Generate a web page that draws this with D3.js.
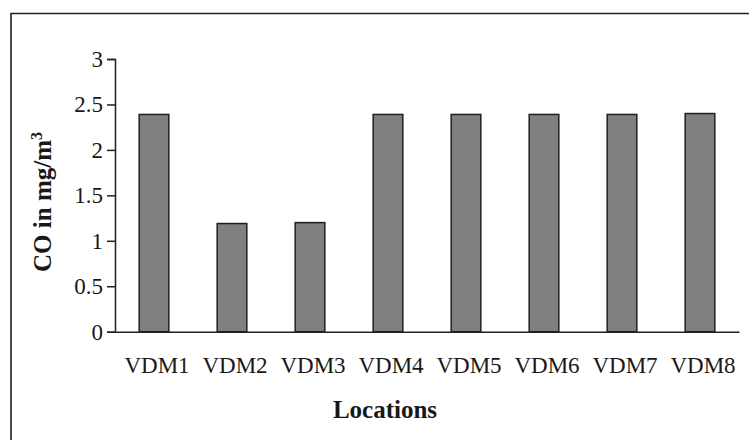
<!DOCTYPE html>
<html>
<head>
<meta charset="utf-8">
<script src="https://cdn.jsdelivr.net/npm/d3@7"></script>
<style>
  body { margin: 0; background: #fff; }
  text { font-family: "Liberation Serif", "Times New Roman", serif; fill: #1a1718; }
</style>
</head>
<body>
<div id="chart"></div>
<script>
// chart values
var locations = ["VDM1", "VDM2", "VDM3", "VDM4", "VDM5", "VDM6", "VDM7", "VDM8"];
var coValues = [2.39, 1.19, 1.2, 2.39, 2.39, 2.39, 2.39, 2.4];
var yTicks = [0, 0.5, 1, 1.5, 2, 2.5, 3];

var width = 749, height = 440;
var margin = { top: 59, right: 10, bottom: 108, left: 115 };

var svg = d3.select("#chart")
  .append("svg")
  .attr("width", width)
  .attr("height", height);

// outer frame (cropped on the right and bottom like the original)
svg.append("path")
  .attr("d", "M11,445 L11,13.5 L760,13.5")
  .attr("fill", "none")
  .attr("stroke", "#231f20")
  .attr("stroke-width", 1.6);

var x = d3.scaleBand()
  .domain(locations)
  .range([margin.left, 739])
  .paddingInner(0.62)
  .paddingOuter(0.31);

var y = d3.scaleLinear()
  .domain([0, 3])
  .range([331.7, margin.top]);

// bars
svg.selectAll("rect.bar")
  .data(locations)
  .enter()
  .append("rect")
  .attr("class", "bar")
  .attr("x", function (d) { return x(d); })
  .attr("width", x.bandwidth())
  .attr("y", function (d, i) { return y(coValues[i]); })
  .attr("height", function (d, i) { return y(0) - y(coValues[i]); })
  .attr("fill", "#808080")
  .attr("stroke", "#231f20")
  .attr("stroke-width", 1.5);

// y axis
var yAxis = svg.append("g")
  .attr("transform", "translate(" + margin.left + ",0)")
  .call(d3.axisLeft(y).tickValues(yTicks).tickSize(8).tickPadding(4)
    .tickFormat(function (d) { return String(d); }));
yAxis.select(".domain").attr("stroke", "#231f20").attr("stroke-width", 1.5);
yAxis.selectAll(".tick line").attr("stroke", "#231f20").attr("stroke-width", 1.5);
yAxis.selectAll(".tick text")
  .style("font-family", "Liberation Serif, serif")
  .style("font-size", "23px")
  .attr("fill", "#1a1718");

// x axis
var xAxis = svg.append("g")
  .attr("transform", "translate(0," + y(0) + ")")
  .call(d3.axisBottom(x).tickSize(0).tickPadding(25));
xAxis.select(".domain").attr("stroke", "#231f20").attr("stroke-width", 1.5);
xAxis.selectAll(".tick text")
  .style("font-family", "Liberation Serif, serif")
  .style("font-size", "23px")
  .attr("fill", "#1a1718")
  .attr("dx", 3);

// axis titles
svg.append("text")
  .attr("x", 385)
  .attr("y", 418)
  .attr("text-anchor", "middle")
  .style("font-size", "25px")
  .style("font-weight", "bold")
  .text("Locations");

var yTitle = svg.append("text")
  .attr("transform", "translate(51,202) rotate(-90)")
  .attr("text-anchor", "middle")
  .style("font-size", "25px")
  .style("font-weight", "bold");
yTitle.append("tspan").text("CO in mg/m");
yTitle.append("tspan").attr("dy", -9).style("font-size", "16px").text("3");
</script>
</body>
</html>
